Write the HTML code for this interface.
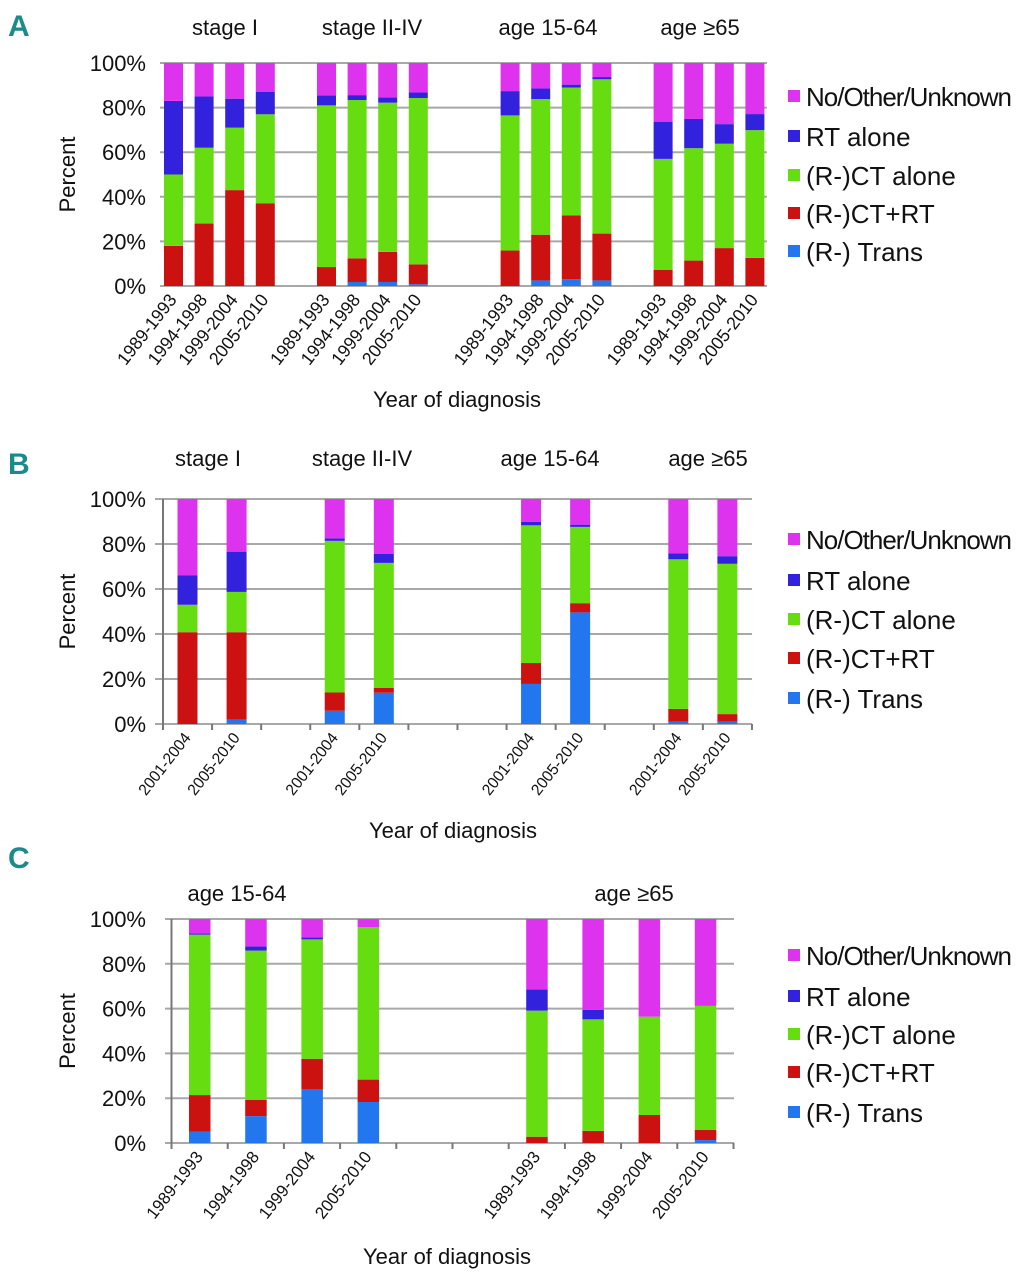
<!DOCTYPE html>
<html><head><meta charset="utf-8"><style>
html,body{margin:0;padding:0;background:#fff;}
svg{display:block;font-family:"Liberation Sans Narrow","Liberation Sans",sans-serif;}
</style></head><body>
<svg id="fig" width="1020" height="1280" viewBox="0 0 1020 1280"></svg>
<script>
// ---------- Panel A data ----------
const catsA = ["1989-1993","1994-1998","1999-2004","2005-2010"];
const groupsA = ["stage I","stage II-IV","age 15-64","age \u226565"];
const slotsA = [0,1,2,3,5,6,7,8,11,12,13,14,16,17,18,19];
const transA = [0,0,0,0, 0,1.8,1.8,0.8, 0,2.5,3.1,2.5, 0,0,0,0];
const ctrtA  = [18,28,43,37, 8.5,10.6,13.5,8.9, 15.9,20.5,28.6,21, 7.3,11.4,17,12.6];
const ctA    = [32,34,28,40, 72.5,71,66.9,74.6, 60.6,60.8,57.3,69.2, 49.7,50.4,46.8,57.3];
const rtA    = [33,23,13,10, 4.5,2.2,2.4,2.5, 10.9,4.8,1.3,1, 16.7,13.1,8.8,7.2];
const noA    = [17,15,16,13, 14.5,14.4,15.4,13.2, 12.6,11.4,9.7,6.3, 26.3,25.1,27.4,22.9];
// ---------- Panel B data ----------
const catsB = ["2001-2004","2005-2010"];
const slotsB = [0,1,3,4,7,8,10,11];
const transB = [0,1.9, 5.9,13.9, 17.8,49.6, 1,1];
const ctrtB  = [40.8,38.9, 8.1,2.1, 9.3,4.1, 5.7,3.4];
const ctB    = [12.2,17.9, 67.4,55.6, 61.2,33.9, 66.5,66.8];
const rtB    = [13,17.9, 1.1,4.1, 1.5,1, 2.7,3.4];
const noB    = [34,23.4, 17.5,24.3, 10.2,11.4, 24.1,25.4];
// ---------- Panel C data ----------
const catsC = ["1989-1993","1994-1998","1999-2004","2005-2010"];
const slotsC = [0,1,2,3,6,7,8,9];
const transC = [5.1,12,24.1,18.3, 0,0,0,1.3];
const ctrtC  = [16.3,7.2,13.5,10, 2.8,5.4,12.5,4.5];
const ctC    = [71.6,66.7,53.3,68, 56.3,49.8,43.9,55.4];
const rtC    = [0.5,1.9,0.9,0, 9.4,4.2,0,0];
const noC    = [6.5,12.2,8.2,3.7, 31.5,40.6,43.6,38.8];

const yTicks = ["0%","20%","40%","60%","80%","100%"];
const seriesNames = ["(R-) Trans","(R-)CT+RT","(R-)CT alone","RT alone","No/Other/Unknown"];
const colors = ["#2277ee","#cc1111","#66dd11","#3322dd","#dd33ee"];

const NS="http://www.w3.org/2000/svg";
const svg=document.getElementById('fig');
function mk(tag,attrs,parent,text){const e=document.createElementNS(NS,tag);for(const k in attrs)e.setAttribute(k,attrs[k]);if(text!==undefined)e.textContent=text;(parent||svg).appendChild(e);return e;}

function panel(p){
  const g=mk('g',{});
  
  
  const y=v=>p.y0-(p.y0-p.y100)*v/100;
  const x=s=>p.x0+s*p.slotW;
  const L=mk('text',{x:8,y:p.letterY,'font-size':30,'font-weight':'bold',fill:'#1a8a8a'},g,p.id);
  
  
  yTicks.forEach((t,i)=>{
    const v=i*20;
    const ln=mk('line',{x1:p.gx0,x2:p.gx1,y1:y(v),y2:y(v),stroke:'#a8a8a8','stroke-width':2},g);
    
    
    const tx=mk('text',{x:146,y:y(v)+8,'font-size':22,'text-anchor':'end',fill:'#111'},g,t);
    
    
  });
  if(p.axis){
    const ax=mk('line',{x1:p.x0,x2:p.x0,y1:p.y100,y2:p.y0+6,stroke:'#777','stroke-width':2},g);
    
    
    for(let s=0;s<=p.nSlots;s++){
      const tk=mk('line',{x1:x(s),x2:x(s),y1:p.y0,y2:p.y0+6,stroke:'#777','stroke-width':2},g);
      
      
    }
  }
  const yl=mk('text',{x:0,y:0,'font-size':22,'text-anchor':'middle',fill:'#111',transform:`translate(75,${(p.y0+p.y100)/2}) rotate(-90)`},g,'Percent');
  
  
  const xl=mk('text',{x:p.xtX,y:p.xtY,'font-size':22,'text-anchor':'middle',fill:'#111'},g,'Year of diagnosis');
  
  
  p.groups.forEach((gn,i)=>{
    const t=mk('text',{x:p.groupX[i],y:p.groupY,'font-size':22,'text-anchor':'middle',fill:'#111'},g,gn);
    
    
  });
  p.slots.forEach((s,i)=>{
    let base=0;
    const bx=x(s)+p.off;
    p.series.forEach((arr,k)=>{
      const v=arr[i];
      if(v>0){
        const r=mk('rect',{x:bx,y:y(base+v),width:p.bw,height:y(base)-y(base+v),fill:colors[k]},g);
        
        
      }
      base+=v;
    });
    const cx=bx+p.bw/2+4, cy=p.y0+14;
    const lab=mk('text',{x:cx,y:cy,'font-size':p.lfs,'text-anchor':'end',fill:'#111',textLength:p.tl,lengthAdjust:'spacingAndGlyphs',transform:`rotate(${p.rot} ${cx} ${cy})`},g,p.cats[i%p.cats.length]);
    
    
  });
  const order=[4,3,2,1,0];
  order.forEach((k,j)=>{
    const ly=p.legY[j];
    const sq=mk('rect',{x:788,y:ly-7,width:12,height:12,fill:colors[k]},g);
    
    
    const a={x:806,y:ly+9,'font-size':26,fill:'#111'};
    if(k===4)a.textLength=206;
    const t=mk('text',a,g,seriesNames[k]);
    
    
  });
}

panel({id:'A',letterY:36,x0:156,slotW:30.6,off:8,bw:19,nSlots:20,gx0:160,gx1:767,y0:286,y100:63,axis:false,
  slots:slotsA,cats:catsA,groups:groupsA,groupX:[225,372,548,700],groupY:35,
  series:[transA,ctrtA,ctA,rtA,noA],xtX:457,xtY:407,legY:[97,137,176,214,252],rot:-52,lfs:18,tl:84});
panel({id:'B',letterY:474,x0:163,slotW:49.08,off:14.5,bw:20,nSlots:12,gx0:155,gx1:752,y0:724,y100:499,axis:true,
  slots:slotsB,cats:catsB,groups:groupsA,groupX:[208,362,550,708],groupY:466,
  series:[transB,ctrtB,ctB,rtB,noB],xtX:453,xtY:838,legY:[540,581,620,659,699],rot:-52,lfs:16,tl:74});
panel({id:'C',letterY:868,x0:171.5,slotW:56.2,off:17.5,bw:21.5,nSlots:10,gx0:165,gx1:734,y0:1143,y100:919,axis:true,
  slots:slotsC,cats:catsC,groups:["age 15-64","age \u226565"],groupX:[237,634],groupY:901,
  series:[transC,ctrtC,ctC,rtC,noC],xtX:447,xtY:1264,legY:[956,997,1035,1073,1113],rot:-52,lfs:17,tl:80});
</script>
</body></html>
